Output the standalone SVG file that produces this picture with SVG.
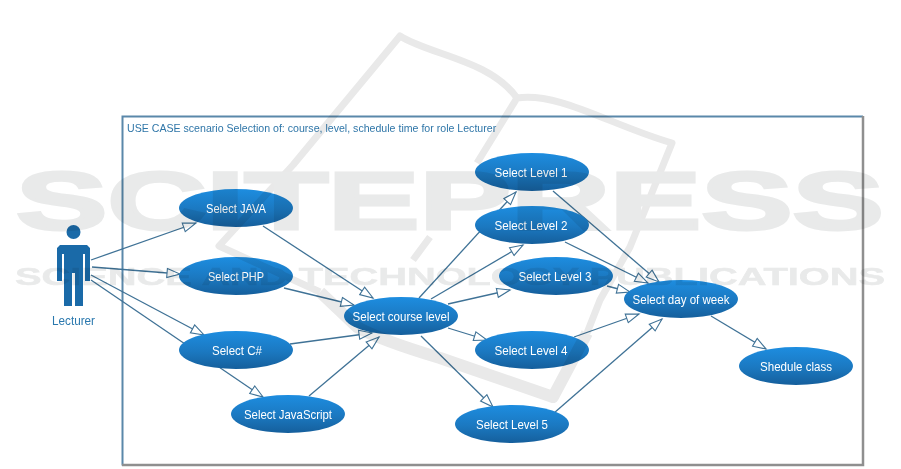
<svg xmlns="http://www.w3.org/2000/svg" width="901" height="469" viewBox="0 0 901 469">
<defs>
<linearGradient id="g" x1="0" y1="0" x2="0" y2="1"><stop offset="0" stop-color="#1d8de0"/><stop offset="0.55" stop-color="#1b78c0"/><stop offset="1" stop-color="#155f9c"/></linearGradient>
<marker id="a" markerWidth="18" markerHeight="14" refX="14" refY="6" orient="auto" markerUnits="userSpaceOnUse"><path d="M1 1.500 L14 6 L1 10.500 Z" fill="#fff" stroke="#3f7296" stroke-width="1.100"/></marker>
</defs>
<style>
#watermark{mix-blend-mode:multiply}
.wm{fill:#e9eaea;stroke:#e9eaea;font-family:"Liberation Sans",Arial,sans-serif;font-weight:700}
.book{fill:none;stroke:#e9e9e9;stroke-width:7;stroke-linejoin:round}
.n ellipse{fill:url(#g)}
.n text{fill:#fff;font:13px "Liberation Sans",Arial,sans-serif;text-anchor:middle}
#connectors line{stroke:#3f7296;stroke-width:1.300;marker-end:url(#a)}
</style>
<rect width="901" height="469" fill="#fff"/>
<g id="frame" fill="none">
<path d="M122.500 465.500 V116.500 H863" stroke="#5a88aa" stroke-width="2"/>
<path d="M863 116 V465 H122" stroke="#8f8f8f" stroke-width="2.500"/>
</g>
<text x="127" y="132" font-family="'Liberation Sans',Arial,sans-serif" font-size="10.600" fill="#2f76a8">USE CASE scenario Selection of: course, level, schedule time for role Lecturer</text>
<g id="connectors">
<line x1="91" y1="260" x2="196" y2="223"/>
<line x1="92" y1="267" x2="180" y2="274"/>
<line x1="91" y1="275" x2="204" y2="335"/>
<line x1="91" y1="280" x2="263" y2="397"/>
<line x1="263" y1="226" x2="373" y2="298"/>
<line x1="284" y1="288" x2="354" y2="305"/>
<line x1="290" y1="344" x2="372" y2="333"/>
<line x1="309" y1="396" x2="379" y2="337"/>
<line x1="419" y1="298" x2="516" y2="192"/>
<line x1="431" y1="299" x2="523" y2="245"/>
<line x1="448" y1="304" x2="510" y2="290"/>
<line x1="448" y1="328" x2="487" y2="340"/>
<line x1="421" y1="336" x2="493" y2="407"/>
<line x1="553" y1="191" x2="659" y2="282"/>
<line x1="565" y1="242" x2="648" y2="283"/>
<line x1="607" y1="286" x2="630" y2="292"/>
<line x1="574" y1="337" x2="639" y2="314"/>
<line x1="554" y1="413" x2="662" y2="319"/>
<line x1="711" y1="316" x2="766" y2="349"/>
</g>
<g id="lecturer">
<circle cx="73.500" cy="232" r="7" fill="#1a6aa8"/>
<path d="M60 245 H87 L90 248 V281 H85 V254 H83 V306 H75 V273 H72 V306 H64 V254 H62 V281 H57 V248 Z" fill="#1a6aa8"/>
<text x="73.500" y="325" text-anchor="middle" font-family="'Liberation Sans',Arial,sans-serif" font-size="12.500" textLength="43" lengthAdjust="spacingAndGlyphs" fill="#2a78ae">Lecturer</text>
</g>
<g id="java" class="n"><ellipse cx="236" cy="208" rx="57" ry="19"/><text x="236" y="213" textLength="60" lengthAdjust="spacingAndGlyphs">Select JAVA</text></g>
<g id="php" class="n"><ellipse cx="236" cy="276" rx="57" ry="19"/><text x="236" y="281" textLength="56" lengthAdjust="spacingAndGlyphs">Select PHP</text></g>
<g id="csharp" class="n"><ellipse cx="236" cy="350" rx="57" ry="19"/><text x="237" y="355" textLength="50" lengthAdjust="spacingAndGlyphs">Select C#</text></g>
<g id="javascript" class="n"><ellipse cx="288" cy="414" rx="57" ry="19"/><text x="288" y="419" textLength="88" lengthAdjust="spacingAndGlyphs">Select JavaScript</text></g>
<g id="course" class="n"><ellipse cx="401" cy="316" rx="57" ry="19"/><text x="401" y="321" textLength="97" lengthAdjust="spacingAndGlyphs">Select course level</text></g>
<g id="l1" class="n"><ellipse cx="532" cy="172" rx="57" ry="19"/><text x="531" y="177" textLength="73" lengthAdjust="spacingAndGlyphs">Select Level 1</text></g>
<g id="l2" class="n"><ellipse cx="532" cy="225" rx="57" ry="19"/><text x="531" y="230" textLength="73" lengthAdjust="spacingAndGlyphs">Select Level 2</text></g>
<g id="l3" class="n"><ellipse cx="556" cy="276" rx="57" ry="19"/><text x="555" y="281" textLength="73" lengthAdjust="spacingAndGlyphs">Select Level 3</text></g>
<g id="l4" class="n"><ellipse cx="532" cy="350" rx="57" ry="19"/><text x="531" y="355" textLength="73" lengthAdjust="spacingAndGlyphs">Select Level 4</text></g>
<g id="l5" class="n"><ellipse cx="512" cy="424" rx="57" ry="19"/><text x="512" y="429" textLength="72" lengthAdjust="spacingAndGlyphs">Select Level 5</text></g>
<g id="day" class="n"><ellipse cx="681" cy="299" rx="57" ry="19"/><text x="681" y="304" textLength="97" lengthAdjust="spacingAndGlyphs">Select day of week</text></g>
<g id="shedule" class="n"><ellipse cx="796" cy="366" rx="57" ry="19"/><text x="796" y="371" textLength="72" lengthAdjust="spacingAndGlyphs">Shedule class</text></g>
<g id="watermark">
<path class="book" d="M293 165 L400 36 C430 55 490 60 517 98 C560 92 610 125 672 143 L630 247 L600 300 L587 333 M517 98 L477 163 M430 237 L413 260 M293 165 L219 246 L320 292"/>
<path class="book" style="stroke-width:12" d="M320 292 L357 327 C380 340 420 352 440 358 L553 397 L587 333"/>
<text class="wm" x="16" y="229" font-size="82" stroke-width="3" textLength="868" lengthAdjust="spacingAndGlyphs">SCITEPRESS</text>
<text class="wm" x="15" y="285" font-size="24" stroke-width="0.500" textLength="870" lengthAdjust="spacingAndGlyphs">SCIENCE AND TECHNOLOGY PUBLICATIONS</text>
</g>
</svg>
